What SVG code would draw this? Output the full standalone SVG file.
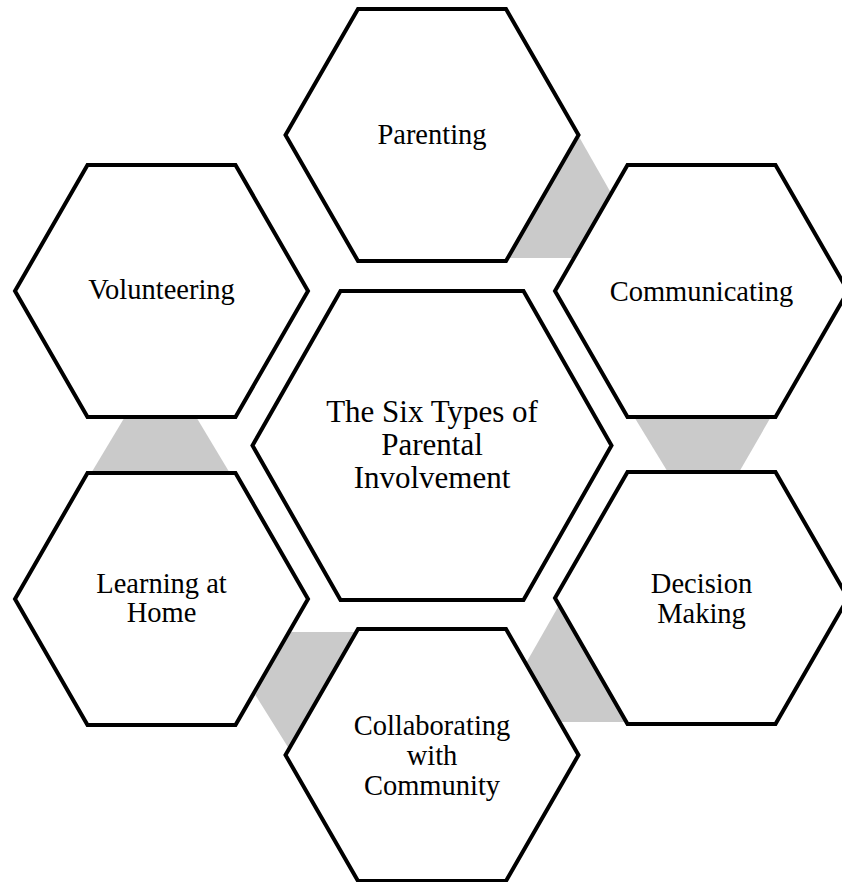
<svg xmlns="http://www.w3.org/2000/svg" width="842" height="882" viewBox="0 0 842 882">
<style>
.hex{fill:#ffffff;stroke:#000000;stroke-width:4;stroke-linejoin:miter}
.conn{fill:#cacaca;stroke:none}
text{font-family:"Liberation Serif","Times New Roman",serif;fill:#000000;text-anchor:middle}
.s{font-size:28.5px}
.c{font-size:31px}
</style>
<rect x="0" y="0" width="842" height="882" fill="#ffffff"/>
<g id="connectors">
<polygon class="conn" points="578,135 640,244 600,258 500,258"/>
<polygon class="conn" points="633,415 772,415 738,474 669,474"/>
<polygon class="conn" points="126,415 195,415 231,475 90,475"/>
<polygon class="conn" points="562,600 505,700 550,722 632,722"/>
<polygon class="conn" points="282,632 360,632 330,760 296,760 246,680"/>
</g>
<g id="center">
<polygon class="hex" points="340.5,291 523.5,291 611.5,445.5 523.5,600 340.5,600 252.5,445.5"/>
<text class="c" x="432" y="422">The Six Types of</text>
<text class="c" x="432" y="455">Parental</text>
<text class="c" x="432" y="488">Involvement</text>
</g>
<g id="parenting">
<polygon class="hex" points="358,9 506,9 578.5,135 506,261 358,261 285.5,135"/>
<text class="s" x="432" y="144">Parenting</text>
</g>
<g id="communicating">
<polygon class="hex" points="627.5,165 775.5,165 848,291 775.5,417 627.5,417 555,291"/>
<text class="s" x="701.5" y="301">Communicating</text>
</g>
<g id="decision-making">
<polygon class="hex" points="627.5,472 775.5,472 848,598 775.5,724 627.5,724 555,598"/>
<text class="s" x="701.5" y="593">Decision</text>
<text class="s" x="701.5" y="623">Making</text>
</g>
<g id="collaborating">
<polygon class="hex" points="358,629 506,629 578.5,755 506,881 358,881 285.5,755"/>
<text class="s" x="432" y="735">Collaborating</text>
<text class="s" x="432" y="765">with</text>
<text class="s" x="432" y="795">Community</text>
</g>
<g id="learning-at-home">
<polygon class="hex" points="87.5,473 235.5,473 308,599 235.5,725 87.5,725 15,599"/>
<text class="s" x="161.5" y="593">Learning at</text>
<text class="s" x="161.5" y="622">Home</text>
</g>
<g id="volunteering">
<polygon class="hex" points="87.5,165 235.5,165 308,291 235.5,417 87.5,417 15,291"/>
<text class="s" x="161.5" y="299">Volunteering</text>
</g>
</svg>
